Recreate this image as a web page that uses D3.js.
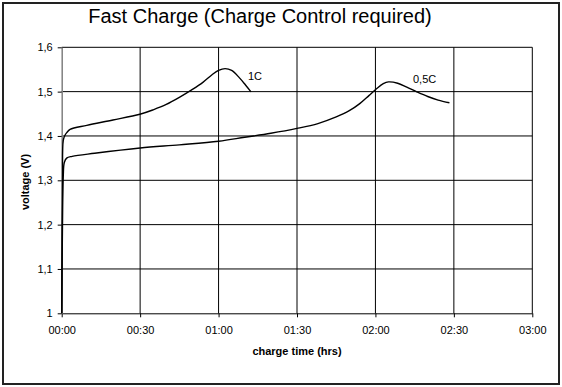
<!DOCTYPE html>
<html>
<head>
<meta charset="utf-8">
<script src="https://cdn.jsdelivr.net/npm/d3@7"></script>
<style>
  body { margin: 0; background: #fff; }
  text { font-family: "Liberation Sans", Arial, sans-serif; fill: #000; }
</style>
</head>
<body>
<div id="chart"></div>
<script>
// charge time in minutes, voltage in V
const time1C = [0, 0.3, 0.6, 1.2, 2.0, 3.2, 9.6, 19.6, 29.9, 35, 40, 45, 50, 54, 57.5, 60, 62.5, 65, 68, 70.3, 72.4];
const volt1C = [1.0, 1.30, 1.39, 1.401, 1.408, 1.415, 1.424, 1.436, 1.449, 1.459, 1.471, 1.487, 1.505, 1.521, 1.538, 1.548, 1.552, 1.548, 1.531, 1.515, 1.4995];

const time05C = [0, 0.3, 0.6, 1.0, 1.9, 4.0, 12.6, 30, 45, 60, 70, 80, 90, 98, 105, 110, 114, 117.5, 120.5, 123, 125, 128.5, 132, 136, 140, 144, 148.3];
const volt05C = [1.0, 1.20, 1.31, 1.34, 1.350, 1.354, 1.361, 1.373, 1.380, 1.388, 1.397, 1.406, 1.417, 1.428, 1.443, 1.457, 1.473, 1.491, 1.507, 1.518, 1.522, 1.519, 1.510, 1.499, 1.489, 1.481, 1.475];

const xTicks = [0, 30, 60, 90, 120, 150, 180];
const yTicks = [1, 1.1, 1.2, 1.3, 1.4, 1.5, 1.6];

const W = 562, H = 387;
const svg = d3.select("#chart").append("svg")
  .attr("width", W).attr("height", H);

// outer frame
svg.append("rect")
  .attr("x", 3).attr("y", 3).attr("width", 556).attr("height", 381)
  .attr("fill", "#fff").attr("stroke", "#222").attr("stroke-width", 2);

const x = d3.scaleLinear().domain([0, 180]).range([61.7, 532.3]);
const y = d3.scaleLinear().domain([1, 1.6]).range([313.3, 47.3]);

// grid
svg.append("g").selectAll("line").data(yTicks.slice(1)).join("line")
  .attr("x1", x(0)).attr("x2", x(180))
  .attr("y1", d => y(d)).attr("y2", d => y(d))
  .attr("stroke", "#000").attr("stroke-width", 1);
svg.append("g").selectAll("line").data(xTicks.slice(1)).join("line")
  .attr("x1", d => x(d)).attr("x2", d => x(d))
  .attr("y1", y(1)).attr("y2", y(1.6))
  .attr("stroke", "#000").attr("stroke-width", 1);

const fmt = m => String(Math.floor(m / 60)).padStart(2, "0") + ":" + String(m % 60).padStart(2, "0");

const xAxis = d3.axisBottom(x).tickValues(xTicks).tickFormat(fmt)
  .tickSizeInner(4).tickSizeOuter(0).tickPadding(9);
const gx = svg.append("g").attr("transform", `translate(0,${y(1)})`).call(xAxis);
gx.select(".domain").attr("stroke", "#000");
gx.selectAll(".tick line").attr("stroke", "#000");
gx.selectAll("text").style("font-size", "11px").attr("font-family", null);

const yAxis = d3.axisLeft(y).tickValues(yTicks)
  .tickFormat(d => d3.format(".1~f")(d).replace(".", ","))
  .tickSizeInner(4).tickSizeOuter(0).tickPadding(5);
const gy = svg.append("g").attr("transform", `translate(${x(0)},0)`).call(yAxis);
gy.select(".domain").attr("stroke", "#808080").attr("stroke-width", 1.5);
gy.selectAll(".tick line").attr("stroke", "#000");
gy.selectAll("text").style("font-size", "11px").attr("font-family", null);

// curves
const line = d3.line()
  .x(d => x(d[0])).y(d => y(d[1]))
  .curve(d3.curveCatmullRom.alpha(0.5));

svg.append("path")
  .datum(d3.zip(time05C, volt05C))
  .attr("d", line).attr("fill", "none")
  .attr("stroke", "#000").attr("stroke-width", 1.4);
svg.append("path")
  .datum(d3.zip(time1C, volt1C))
  .attr("d", line).attr("fill", "none")
  .attr("stroke", "#000").attr("stroke-width", 1.4);

// series labels
svg.append("text").attr("x", 248).attr("y", 80)
  .style("font-size", "11px").text("1C");
svg.append("text").attr("x", 413).attr("y", 83)
  .style("font-size", "11px").text("0,5C");

// titles
svg.append("text").attr("x", 260).attr("y", 23)
  .attr("text-anchor", "middle").style("font-size", "20px")
  .text("Fast Charge (Charge Control required)");
svg.append("text").attr("x", 297).attr("y", 355)
  .attr("text-anchor", "middle").style("font-size", "11px").style("font-weight", "bold")
  .text("charge time (hrs)");
svg.append("text")
  .attr("transform", "translate(29,182) rotate(-90)")
  .attr("text-anchor", "middle").style("font-size", "11px").style("font-weight", "bold")
  .text("voltage (V)");
</script>
</body>
</html>
